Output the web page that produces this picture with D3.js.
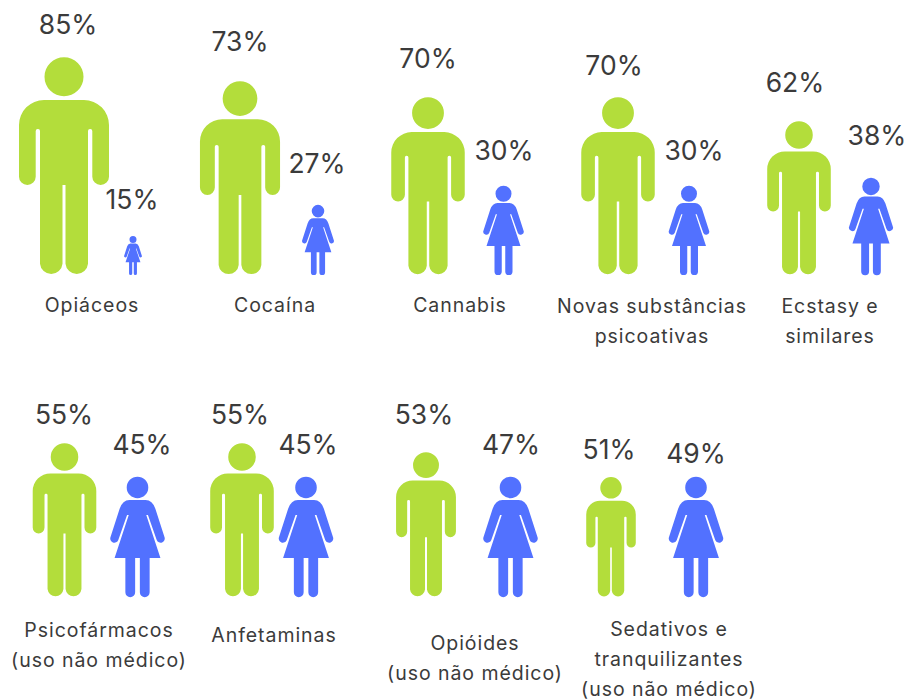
<!DOCTYPE html>
<html lang="pt">
<head>
<meta charset="utf-8">
<title>Consumo de substâncias por sexo</title>
<script src="https://cdn.jsdelivr.net/npm/d3@7/dist/d3.min.js"></script>
<style>
  html, body { margin: 0; padding: 0; background: #fff; }
  svg { display: block; }
  text { font-family: "Inter", sans-serif; fill: #3b3b3b; text-anchor: middle; }
  .pct { font-size: 26.5px; }
  .cat { font-size: 19.5px; letter-spacing: 0.95px; }
</style>
</head>
<body>
<svg id="chart" width="907" height="700"></svg>
<script>
// Substance categories, one pair of pictograms each
const categories = ["Opiáceos", "Cocaína", "Cannabis", "Novas substâncias psicoativas", "Ecstasy e similares",
  "Psicofármacos (uso não médico)", "Anfetaminas", "Opióides (uso não médico)", "Sedativos e tranquilizantes (uso não médico)"];
const menValues = [85, 73, 70, 70, 62, 55, 55, 53, 51];
const womenValues = [15, 27, 30, 30, 38, 45, 45, 47, 49];
const categoryLines = [["Opiáceos"], ["Cocaína"], ["Cannabis"], ["Novas substâncias", "psicoativas"], ["Ecstasy e", "similares"],
  ["Psicofármacos", "(uso não médico)"], ["Anfetaminas"], ["Opióides", "(uso não médico)"], ["Sedativos e", "tranquilizantes", "(uso não médico)"]];

const GREEN = "#b3dd3b", BLUE = "#5271ff";

// Figure height for a percentage: stepped by value, shared by both sexes
const figureHeight = d3.scaleLinear()
  .domain([15, 27, 30, 38, 45, 51, 53, 55, 62, 70, 73, 85])
  .range([39, 70, 89, 97, 120, 120, 145, 154, 154, 178, 194, 218]);

// Slot placement per category
const manX = d3.scaleOrdinal(categories, [64, 240, 428, 618, 799, 64.5, 242, 426, 611]);
const womanX = d3.scaleOrdinal(categories, [133, 318, 503.5, 689, 871, 137.5, 306, 510.5, 696]);
const groundY = d3.scaleOrdinal(categories, [275, 275, 275, 275, 275, 597, 597, 597, 597]);
const manLabelX = d3.scaleOrdinal(categories, [68, 240, 428, 614, 795, 64, 240, 424, 609]);
const manLabelY = d3.scaleOrdinal(categories, [34, 51, 68, 75, 92, 424, 424, 424, 459]);
const womanLabelX = d3.scaleOrdinal(categories, [132, 317, 504, 694, 877, 142, 308, 511, 696]);
const womanLabelY = d3.scaleOrdinal(categories, [209, 173, 160, 160, 145, 454, 454, 454, 463]);
const catX = d3.scaleOrdinal(categories, [92, 275, 460, 652, 830, 99, 274, 475, 669]);
const catY = d3.scaleOrdinal(categories, [312, 312, 312, 313, 313, 637, 642, 650, 636]);

// Pictogram outlines, anchored at top-centre and drawn in their own unit space
const MAN_H = 218;
const manPath =
  "M-20,43H20A25,25 0 0 1 45,68V119.7A8.35,8.35 0 0 1 28.3,119.7V74Q28.3,72 26.3,72H26Q24,72 24,74" +
  "V206.7A11.3,11.3 0 0 1 1.5,206.7V128H-1.5V206.7A11.3,11.3 0 0 1 -24,206.7V74Q-24,72 -26,72H-26.3Q-28.3,72 -28.3,74" +
  "V119.7A8.35,8.35 0 0 1 -45,119.7V68A25,25 0 0 1 -20,43Z" +
  "M19.5,19.7A19.5,19.5 0 1 1 -19.5,19.7A19.5,19.5 0 1 1 19.5,19.7Z";

const WOMAN_H = 356;
const womanPath =
  "M-24,68H24Q44,68 53,94L80,178A12,12 0 0 1 57,187L31,113H26L68,240H36V342A14.5,14.5 0 0 1 7,342V240H-7" +
  "V342A14.5,14.5 0 0 1 -36,342V240H-68L-26,113H-31L-57,187A12,12 0 0 1 -80,178L-53,94Q-44,68 -24,68Z" +
  "M32,31A32,32 0 1 1 -32,31A32,32 0 1 1 32,31Z";

const svg = d3.select("#chart");

const rows = categories.map((c, i) => ({ category: c, man: menValues[i], woman: womenValues[i], lines: categoryLines[i] }));
const groups = svg.selectAll("g.cat-group").data(rows).join("g").attr("class", "cat-group");

groups.append("path")
  .attr("d", manPath)
  .attr("fill", GREEN)
  .attr("transform", d => {
    const h = figureHeight(d.man);
    return `translate(${manX(d.category)},${groundY(d.category) - h}) scale(${h / MAN_H})`;
  });

groups.append("path")
  .attr("d", womanPath)
  .attr("fill", BLUE)
  .attr("transform", d => {
    const h = figureHeight(d.woman);
    return `translate(${womanX(d.category)},${groundY(d.category) - h}) scale(${h / WOMAN_H})`;
  });

groups.append("text").attr("class", "pct")
  .attr("x", d => manLabelX(d.category)).attr("y", d => manLabelY(d.category))
  .text(d => `${d.man}%`);

groups.append("text").attr("class", "pct")
  .attr("x", d => womanLabelX(d.category)).attr("y", d => womanLabelY(d.category))
  .text(d => `${d.woman}%`);

groups.append("text").attr("class", "cat")
  .selectAll("tspan").data(d => d.lines.map(line => ({ line, category: d.category }))).join("tspan")
  .attr("x", d => catX(d.category))
  .attr("y", (d, i) => catY(d.category) + i * 30)
  .text(d => d.line);
</script>
</body>
</html>
